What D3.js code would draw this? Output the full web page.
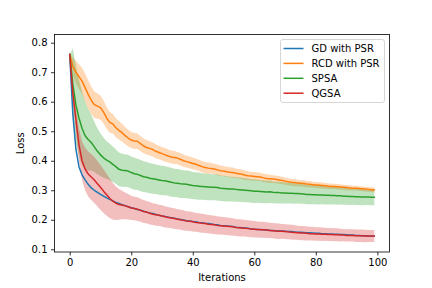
<!DOCTYPE html>
<html><head><meta charset="utf-8">
<script src="https://cdn.jsdelivr.net/npm/d3@7/dist/d3.min.js"></script>
<style>
html,body{margin:0;padding:0;background:#fff;}
svg{display:block;font-family:"DejaVu Sans",sans-serif;}
</style></head><body>
<svg id="chart" width="432" height="288"></svg>
<script>
const seriesNames = ["GD with PSR", "RCD with PSR", "SPSA", "QGSA"];
const seriesColors = ["#1f77b4", "#ff7f0e", "#2ca02c", "#d62728"];
const xTicks = [0, 20, 40, 60, 80, 100];
const yTicks = [0.1, 0.2, 0.3, 0.4, 0.5, 0.6, 0.7, 0.8];
const xLabel = "Iterations";
const yLabel = "Loss";

const gdMean = [
.760,.560,.440,.380,.352,.335,.320,.308,.300,.293,
.286,.280,.274,.269,.264,.259,.255,.251,.248,.244,
.241,.238,.235,.232,.229,.226,.223,.221,.218,.215,
.213,.211,.209,.207,.205,.203,.201,.199,.197,.196,
.194,.193,.191,.190,.188,.187,.186,.184,.183,.181,
.180,.179,.178,.177,.175,.174,.173,.172,.171,.169,
.168,.167,.167,.166,.165,.164,.164,.163,.162,.162,
.161,.160,.160,.159,.158,.158,.157,.156,.156,.155,
.154,.154,.153,.153,.152,.152,.151,.151,.150,.150,
.149,.148,.148,.147,.147,.146,.146,.145,.145,.144];

const rcdMean = [
.760,.720,.700,.685,.670,.648,.625,.605,.590,.585,
.580,.565,.545,.530,.525,.512,.503,.495,.485,.477,
.470,.467,.466,.458,.450,.445,.442,.438,.432,.428,
.424,.420,.416,.413,.411,.409,.405,.400,.397,.394,
.391,.388,.384,.380,.377,.375,.374,.372,.369,.366,
.365,.363,.361,.360,.358,.356,.354,.351,.349,.348,
.347,.346,.345,.342,.340,.339,.338,.337,.335,.333,
.331,.329,.327,.326,.325,.324,.323,.321,.320,.319,
.318,.317,.316,.315,.314,.313,.313,.312,.311,.310,
.309,.308,.307,.307,.306,.305,.304,.303,.302,.301];

const rcdStd = [
.000,.030,.038,.042,.045,.048,.048,.047,.045,.043,
.041,.039,.037,.035,.033,.032,.031,.030,.029,.028,
.027,.027,.026,.026,.025,.025,.024,.024,.024,.023,
.023,.023,.022,.022,.022,.021,.021,.021,.020,.020,
.020,.020,.019,.019,.019,.019,.018,.018,.018,.018,
.017,.017,.017,.017,.016,.016,.016,.016,.015,.015,
.015,.015,.014,.014,.014,.014,.013,.013,.013,.013,
.012,.012,.012,.012,.011,.011,.011,.011,.011,.010,
.010,.010,.010,.010,.010,.009,.009,.009,.009,.009,
.009,.009,.008,.008,.008,.008,.008,.008,.008,.008];

const spsaMean = [
.760,.660,.590,.545,.510,.485,.472,.462,.447,.432,
.420,.410,.402,.396,.388,.380,.371,.368,.367,.365,
.360,.356,.354,.350,.346,.344,.341,.339,.337,.335,
.333,.332,.330,.327,.325,.324,.322,.321,.320,.318,
.316,.315,.314,.313,.312,.311,.310,.310,.309,.307,
.306,.305,.304,.304,.303,.302,.301,.300,.299,.298,
.297,.297,.296,.295,.294,.295,.293,.292,.292,.291,
.291,.290,.290,.289,.289,.288,.287,.286,.286,.285,
.285,.284,.284,.283,.283,.282,.282,.281,.281,.280,
.280,.279,.279,.278,.278,.277,.277,.277,.276,.276];

const spsaStd = [
.000,.120,.130,.130,.125,.115,.105,.095,.085,.078,
.072,.068,.064,.062,.060,.058,.057,.056,.055,.055,
.054,.054,.053,.053,.052,.052,.051,.051,.050,.050,
.050,.049,.049,.049,.048,.048,.048,.047,.047,.047,
.046,.046,.046,.045,.045,.045,.044,.044,.044,.043,
.043,.043,.042,.042,.042,.041,.041,.041,.040,.040,
.040,.039,.039,.039,.038,.038,.037,.037,.037,.036,
.036,.035,.035,.035,.034,.034,.033,.033,.033,.032,
.032,.032,.031,.031,.031,.030,.030,.030,.029,.029,
.029,.029,.028,.028,.028,.028,.027,.027,.027,.027];

const qgsaMean = [
.760,.630,.540,.455,.400,.372,.355,.345,.335,.322,
.310,.297,.285,.273,.263,.256,.252,.250,.247,.244,
.240,.238,.236,.232,.228,.226,.222,.219,.217,.215,
.213,.210,.208,.206,.204,.202,.200,.198,.196,.195,
.193,.191,.190,.188,.187,.185,.184,.183,.181,.180,
.179,.178,.177,.176,.174,.173,.172,.171,.170,.169,
.168,.167,.166,.166,.165,.164,.163,.162,.161,.161,
.160,.159,.158,.157,.156,.155,.155,.154,.153,.153,
.152,.152,.151,.151,.150,.150,.149,.149,.148,.148,
.147,.147,.147,.146,.146,.146,.145,.145,.145,.145];

const qgsaStd = [
.000,.020,.040,.055,.065,.072,.076,.078,.078,.077,
.076,.074,.071,.067,.062,.057,.052,.048,.045,.043,
.041,.040,.040,.039,.039,.038,.038,.037,.037,.036,
.036,.036,.035,.035,.035,.034,.034,.034,.033,.033,
.033,.032,.032,.032,.032,.031,.031,.031,.031,.030,
.030,.030,.030,.029,.029,.029,.029,.028,.028,.028,
.028,.027,.027,.027,.027,.026,.026,.026,.026,.025,
.025,.025,.025,.025,.024,.024,.024,.024,.023,.023,
.023,.023,.023,.022,.022,.022,.022,.022,.022,.021,
.021,.021,.021,.021,.021,.021,.021,.020,.020,.020];

const iterations = gdMean.map((_, i) => i);
const means = [gdMean, rcdMean, spsaMean, qgsaMean];
const stds = [null, rcdStd, spsaStd, qgsaStd];

const svg = d3.select("#chart");
const mLeft = 54.5, mRight = 389.5, mTop = 34.5, mBottom = 252;
const x = d3.scaleLinear().domain([-4.95, 103.95]).range([mLeft, mRight]);
const y = d3.scaleLinear().domain([0.0908, 0.8278]).range([mBottom, mTop]);

// bands
const bandG = svg.append("g");
[1, 2, 3].forEach(k => {
  const area = d3.area()
    .x((d, i) => x(iterations[i]))
    .y0((d, i) => y(means[k][i] - stds[k][i]))
    .y1((d, i) => y(means[k][i] + stds[k][i]));
  bandG.append("path")
    .attr("d", area(means[k]))
    .attr("fill", seriesColors[k])
    .attr("fill-opacity", 0.3);
});

// lines
const lineG = svg.append("g");
means.forEach((m, k) => {
  const line = d3.line().x((d, i) => x(iterations[i])).y(d => y(d));
  lineG.append("path")
    .attr("d", line(m))
    .attr("fill", "none")
    .attr("stroke", seriesColors[k])
    .attr("stroke-width", 1.5)
    .attr("stroke-linejoin", "round")
    .attr("stroke-linecap", "square");
});

// axes
const xAxis = d3.axisBottom(x).tickValues(xTicks).tickSize(3.5).tickPadding(3.5).tickFormat(d3.format("d"));
const yAxis = d3.axisLeft(y).tickValues(yTicks).tickSize(3.5).tickPadding(3.5).tickFormat(d3.format(".1f"));
const gx = svg.append("g").attr("transform", `translate(0,${mBottom})`).call(xAxis);
const gy = svg.append("g").attr("transform", `translate(${mLeft},0)`).call(yAxis);
[gx, gy].forEach(g => {
  g.select(".domain").remove();
  g.selectAll(".tick line").attr("stroke", "#000").attr("stroke-width", 0.8);
  g.selectAll(".tick text").attr("fill", "#000").style("font-size", "10px").style("font-family", "DejaVu Sans");
});

// frame
svg.append("rect")
  .attr("x", mLeft).attr("y", mTop)
  .attr("width", mRight - mLeft).attr("height", mBottom - mTop)
  .attr("fill", "none").attr("stroke", "#000").attr("stroke-width", 0.8);

// labels
svg.append("text").attr("x", (mLeft + mRight) / 2).attr("y", 281)
  .attr("text-anchor", "middle").style("font-size", "10px").text(xLabel);
svg.append("text").attr("transform", `translate(24,${(mTop + mBottom) / 2}) rotate(-90)`)
  .attr("text-anchor", "middle").style("font-size", "10px").text(yLabel);

// legend
const lg = svg.append("g");
lg.append("rect").attr("x", 280.5).attr("y", 39.5).attr("width", 104).attr("height", 63)
  .attr("rx", 2.5).attr("fill", "#fff").attr("fill-opacity", 0.8)
  .attr("stroke", "#cccccc").attr("stroke-width", 0.8);
seriesNames.forEach((name, k) => {
  const cy = 48.5 + k * 14.9;
  lg.append("line").attr("x1", 283.5).attr("x2", 303.5).attr("y1", cy).attr("y2", cy)
    .attr("stroke", seriesColors[k]).attr("stroke-width", 1.5);
  lg.append("text").attr("x", 311.5).attr("y", cy).attr("dy", "0.36em")
    .style("font-size", "10px").attr("fill", "#000").text(name);
});
</script>
</body></html>
